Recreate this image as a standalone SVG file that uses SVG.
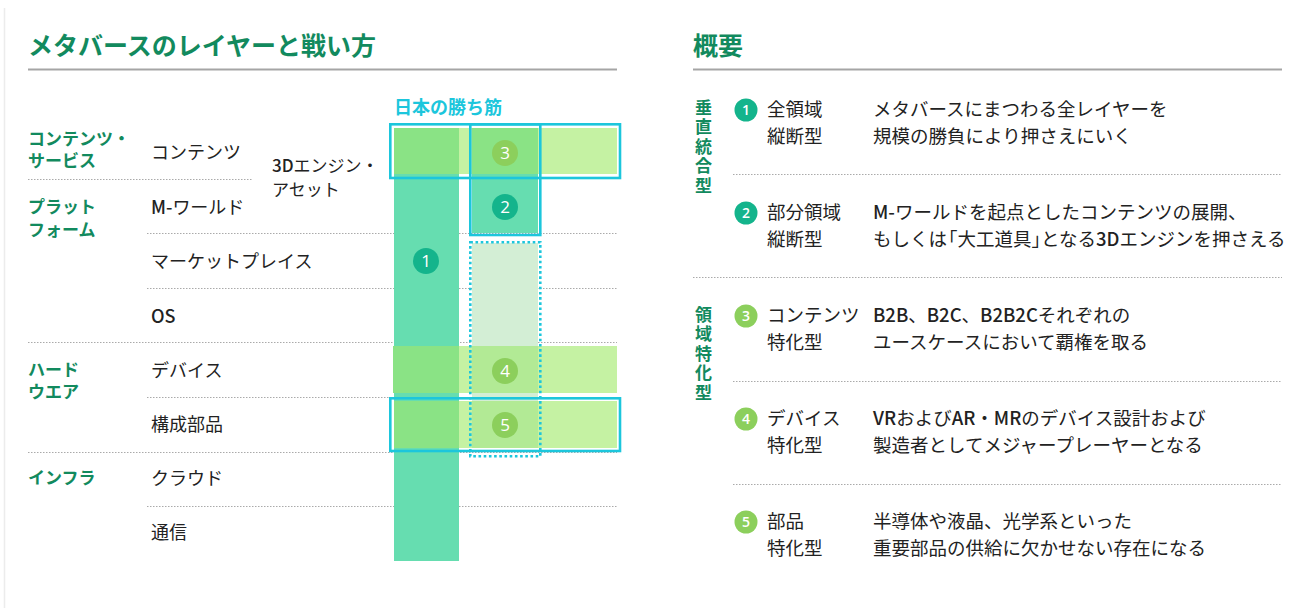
<svg xmlns="http://www.w3.org/2000/svg" width="1290" height="608" viewBox="0 0 1290 608">
<defs>
<style>
.jp{font-family:"Noto Sans CJK JP","Noto Sans",sans-serif}
.h1{font-size:25px;font-weight:700;fill:#128a5e}
.cat{font-size:17px;font-weight:700;fill:#128a5e}
.row{font-size:18px;fill:#222}
.txt{font-size:18.5px;fill:#222}
.lat{font-weight:500}
.vt{font-size:17px;font-weight:700;fill:#128a5e;letter-spacing:2.4px}
.hl{stroke:#a5a5a5;stroke-width:2;fill:none}
.dot{stroke:#aaa;stroke-width:1;stroke-dasharray:1.5 1.5;fill:none}
.teal{fill:#66ddb0}
.band{fill:#c5f2a3}
.ov{fill:#8ae385}
.pale{fill:#d3eed5}
.ov2{fill:#b2ea95}
.cy{fill:none;stroke:#1cc6dc;stroke-width:2.6}
.cyd{fill:none;stroke:#1cc6dc;stroke-width:2.6;stroke-dasharray:2.6 2.6}
.ct{fill:#14b48c}
.cg{fill:#8ccf5c}
.num{font-family:"Open Sans","Noto Sans",sans-serif;fill:#fff;text-anchor:middle}
.n1{font-size:17px}
.n2{font-size:14px;font-weight:600}
</style>
</defs>
<rect width="1290" height="608" fill="#fff"/>
<line x1="4.5" y1="8" x2="4.5" y2="608" stroke="#ececec" stroke-width="1.5"/>

<g id="left-title">
<text class="jp h1" x="28" y="55">メタバースのレイヤーと戦い方</text>
<line class="hl" x1="28" y1="69.5" x2="617" y2="69.5"/>
</g>

<g id="right-title">
<text class="jp h1" x="693" y="55">概要</text>
<line class="hl" x1="693" y1="69.5" x2="1282" y2="69.5"/>
</g>

<g id="grid-lines">
<line class="dot" x1="28" y1="179.5" x2="252" y2="179.5"/>
<line class="dot" x1="147" y1="233.5" x2="617" y2="233.5"/>
<line class="dot" x1="147" y1="288.5" x2="617" y2="288.5"/>
<line class="dot" x1="28" y1="342.5" x2="617" y2="342.5"/>
<line class="dot" x1="147" y1="397.5" x2="617" y2="397.5"/>
<line class="dot" x1="28" y1="452.5" x2="617" y2="452.5"/>
<line class="dot" x1="147" y1="506.5" x2="617" y2="506.5"/>
</g>

<g id="cat-contents"><text class="jp cat" x="28" y="145">コンテンツ・</text><text class="jp cat" x="28" y="167">サービス</text></g>
<g id="cat-platform"><text class="jp cat" x="28" y="213">プラット</text><text class="jp cat" x="28" y="236">フォーム</text></g>
<g id="cat-hardware"><text class="jp cat" x="28" y="376">ハード</text><text class="jp cat" x="28" y="398">ウエア</text></g>
<g id="cat-infra"><text class="jp cat" x="28" y="484">インフラ</text></g>

<g id="row-contents"><text class="jp row" x="151" y="159">コンテンツ</text></g>
<g id="row-3d"><text class="jp row" x="272" y="172" style="font-size:17px"><tspan class="lat">3D</tspan>エンジン・</text><text class="jp row" x="272" y="196" style="font-size:17px">アセット</text></g>
<g id="row-mworld"><text class="jp row" x="151" y="214"><tspan class="lat">M-</tspan>ワールド</text></g>
<g id="row-market"><text class="jp row" x="151" y="268">マーケットプレイス</text></g>
<g id="row-os"><text class="jp row lat" x="151" y="323">OS</text></g>
<g id="row-device"><text class="jp row" x="151" y="377">デバイス</text></g>
<g id="row-parts"><text class="jp row" x="151" y="431">構成部品</text></g>
<g id="row-cloud"><text class="jp row" x="151" y="485">クラウド</text></g>
<g id="row-comm"><text class="jp row" x="151" y="539">通信</text></g>

<g id="chart-label"><text class="jp" x="394" y="114" style="font-size:18px;font-weight:700;fill:#1cc6dc">日本の勝ち筋</text></g>

<g id="strategy-1">
<rect class="teal" x="394" y="128" width="65" height="433"/>
</g>
<g id="strategy-2">
<rect class="teal" x="472" y="128" width="66" height="105"/>
<rect class="pale" x="472" y="243" width="66" height="205"/>
</g>
<g id="strategy-3">
<rect class="band" x="394" y="128" width="223" height="46"/>
<rect class="ov" x="394" y="128" width="65" height="46"/>
<rect class="ov" x="472" y="128" width="66" height="46"/>
</g>
<g id="strategy-4">
<rect class="band" x="393" y="346" width="224" height="47"/>
<rect class="ov" x="393" y="346" width="66" height="47"/>
<rect class="ov2" x="472" y="346" width="66" height="47"/>
</g>
<g id="strategy-5">
<rect class="band" x="394" y="401" width="223" height="47"/>
<rect class="ov" x="394" y="401" width="65" height="47"/>
<rect class="ov2" x="472" y="401" width="66" height="47"/>
</g>

<g id="highlight-boxes">
<rect class="cy" x="390.3" y="124.3" width="229.7" height="53.7"/>
<rect class="cy" x="470.3" y="124.3" width="70" height="110.7"/>
<rect class="cyd" x="470.3" y="242.3" width="70" height="214"/>
<rect class="cy" x="390.3" y="398.3" width="229.7" height="52.7"/>
</g>

<g id="chart-badges">
<circle class="cg" cx="505" cy="153" r="13"/><text class="num n1" x="505" y="159">3</text>
<circle class="ct" cx="505" cy="207" r="13"/><text class="num n1" x="505" y="213">2</text>
<circle class="ct" cx="426" cy="261" r="13"/><text class="num n1" x="426" y="267">1</text>
<circle class="cg" cx="505" cy="371" r="13"/><text class="num n1" x="505" y="377">4</text>
<circle class="cg" cx="505" cy="425" r="13"/><text class="num n1" x="505" y="431">5</text>
</g>

<g id="group-vertical">
<text class="jp vt" x="703.5" y="99" writing-mode="vertical-rl">垂直統合型</text>
</g>
<g id="group-domain">
<text class="jp vt" x="703.5" y="306" writing-mode="vertical-rl">領域特化型</text>
</g>

<g id="overview-lines">
<line class="dot" x1="733" y1="174.5" x2="1282" y2="174.5"/>
<line class="dot" x1="693" y1="277.5" x2="1282" y2="277.5"/>
<line class="dot" x1="733" y1="381.5" x2="1282" y2="381.5"/>
<line class="dot" x1="733" y1="484.5" x2="1282" y2="484.5"/>
</g>

<g id="item-1">
<circle class="ct" cx="746" cy="110" r="11.5"/><text class="num n2" x="746" y="115">1</text>
<text class="jp txt" x="767" y="116">全領域</text><text class="jp txt" x="767" y="143">縦断型</text>
<text class="jp txt" x="873" y="116">メタバースにまつわる全レイヤーを</text>
<text class="jp txt" x="873" y="143">規模の勝負により押さえにいく</text>
</g>
<g id="item-2">
<circle class="ct" cx="746" cy="213" r="11.5"/><text class="num n2" x="746" y="218">2</text>
<text class="jp txt" x="767" y="219">部分領域</text><text class="jp txt" x="767" y="246">縦断型</text>
<text class="jp txt" x="873" y="219"><tspan class="lat">M-</tspan>ワールドを起点としたコンテンツの展開、</text>
<text class="jp txt" x="873" y="246">もしくは<tspan dx="-8">「</tspan>大工道具」<tspan dx="-9">となる</tspan><tspan class="lat">3D</tspan>エンジンを押さえる</text>
</g>
<g id="item-3">
<circle class="cg" cx="746" cy="316" r="11.5"/><text class="num n2" x="746" y="321">3</text>
<text class="jp txt" x="767" y="322">コンテンツ</text><text class="jp txt" x="767" y="349">特化型</text>
<text class="jp txt" x="873" y="322"><tspan class="lat">B2B</tspan>、<tspan class="lat">B2C</tspan>、<tspan class="lat">B2B2C</tspan>それぞれの</text>
<text class="jp txt" x="873" y="349">ユースケースにおいて覇権を取る</text>
</g>
<g id="item-4">
<circle class="cg" cx="746" cy="419" r="11.5"/><text class="num n2" x="746" y="424">4</text>
<text class="jp txt" x="767" y="425">デバイス</text><text class="jp txt" x="767" y="452">特化型</text>
<text class="jp txt" x="873" y="425"><tspan class="lat">VR</tspan>および<tspan class="lat">AR</tspan>・<tspan class="lat">MR</tspan>のデバイス設計および</text>
<text class="jp txt" x="873" y="452">製造者としてメジャープレーヤーとなる</text>
</g>
<g id="item-5">
<circle class="cg" cx="746" cy="522" r="11.5"/><text class="num n2" x="746" y="527">5</text>
<text class="jp txt" x="767" y="528">部品</text><text class="jp txt" x="767" y="555">特化型</text>
<text class="jp txt" x="873" y="528">半導体や液晶、光学系といった</text>
<text class="jp txt" x="873" y="555">重要部品の供給に欠かせない存在になる</text>
</g>
</svg>
